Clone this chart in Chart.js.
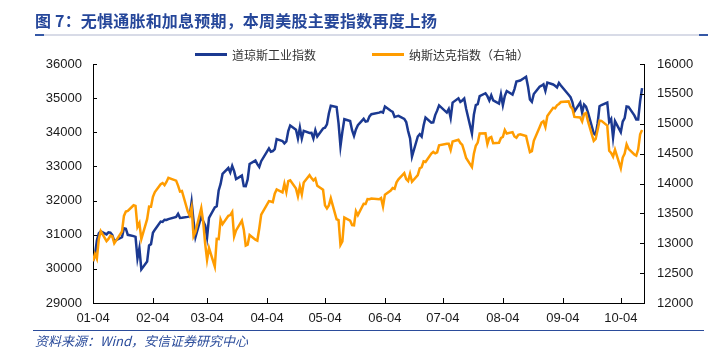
<!DOCTYPE html>
<html>
<head>
<meta charset="utf-8">
<script src="https://cdn.jsdelivr.net/npm/chart.js@4.4.1/dist/chart.umd.min.js"></script>
<style>
  html, body { margin: 0; padding: 0; background: #fff; }
  #wrap { position: relative; width: 720px; height: 352px; overflow: hidden; font-family: "Noto Sans CJK SC", sans-serif; }
  #chart { position: absolute; left: 0; top: 0; }
  .title { position: absolute; left: 35px; top: 10px; font-size: 16px; font-weight: bold; color: #26479a; white-space: nowrap; line-height: 20px; letter-spacing: 0.2px; }
  .rule { position: absolute; left: 35px; width: 673px; top: 34px; height: 2px; background: #d8dbe7; }
  .rule:before, .rule:after { content: ""; position: absolute; top: 0; width: 9px; height: 2px; background: #3558a6; }
  .rule:before { left: 0; }
  .rule:after { right: 0; }
  .srcline { position: absolute; left: 33px; width: 671px; top: 330px; height: 1px; background: #2b4c9b; }
  .source { position: absolute; left: 35px; top: 333px; font-size: 13px; font-style: italic; color: #2b4c9b; white-space: nowrap; line-height: 16px; }
  #legend { position: absolute; left: 195px; top: 46px; height: 16px; display: flex; gap: 56px; font-size: 12px; color: #333; }
  #legend .item { display: flex; align-items: center; }
  #legend .swatch { width: 32px; height: 3px; margin-right: 5px; }
</style>
</head>
<body>
<div id="wrap">
  <canvas id="chart" width="720" height="352"></canvas>
  <div class="title">图 7：无惧通胀和加息预期，本周美股主要指数再度上扬</div>
  <div class="rule"></div>
  <div id="legend"></div>
  <div class="srcline"></div>
  <div class="source">资料来源：Wind，安信证券研究中心</div>
</div>
<script>
// trading days of 2021 (MM-DD)
const tradeDates = [
  '01-04','01-05','01-06','01-07','01-08','01-11','01-12','01-13','01-14','01-15','01-19','01-20','01-21','01-22','01-25','01-26','01-27','01-28','01-29',
  '02-01','02-02','02-03','02-04','02-05','02-08','02-09','02-10','02-11','02-12','02-16','02-17','02-18','02-19','02-22','02-23','02-24','02-25','02-26',
  '03-01','03-02','03-03','03-04','03-05','03-08','03-09','03-10','03-11','03-12','03-15','03-16','03-17','03-18','03-19','03-22','03-23','03-24','03-25','03-26','03-29','03-30','03-31',
  '04-01','04-05','04-06','04-07','04-08','04-09','04-12','04-13','04-14','04-15','04-16','04-19','04-20','04-21','04-22','04-23','04-26','04-27','04-28','04-29','04-30',
  '05-03','05-04','05-05','05-06','05-07','05-10','05-11','05-12','05-13','05-14','05-17','05-18','05-19','05-20','05-21','05-24','05-25','05-26','05-27','05-28',
  '06-01','06-02','06-03','06-04','06-07','06-08','06-09','06-10','06-11','06-14','06-15','06-16','06-17','06-18','06-21','06-22','06-23','06-24','06-25','06-28','06-29','06-30',
  '07-01','07-02','07-06','07-07','07-08','07-09','07-12','07-13','07-14','07-15','07-16','07-19','07-20','07-21','07-22','07-23','07-26','07-27','07-28','07-29','07-30',
  '08-02','08-03','08-04','08-05','08-06','08-09','08-10','08-11','08-12','08-13','08-16','08-17','08-18','08-19','08-20','08-23','08-24','08-25','08-26','08-27','08-30','08-31',
  '09-01','09-02','09-03','09-07','09-08','09-09','09-10','09-13','09-14','09-15','09-16','09-17','09-20','09-21','09-22','09-23','09-24','09-27','09-28','09-29','09-30',
  '10-01','10-04','10-05','10-06','10-07','10-08','10-11','10-12','10-13','10-14','10-15'
];

const dowValues = [
  30224,30392,30829,31041,31098,31009,31069,31060,30992,30814,30931,31188,31176,30997,30960,30937,30303,30603,29983,
  30212,30687,30724,31056,31148,31386,31376,31438,31431,31458,31523,31613,31493,31494,31522,31537,31962,31402,30932,
  31536,31392,31270,30924,31496,31802,31833,32297,32486,32779,32953,32826,33015,32862,32628,32731,32423,32420,32619,33073,33171,33067,32982,
  33153,33527,33430,33446,33504,33801,33745,33677,33731,34036,34201,34078,33821,34137,33816,34043,33982,33985,33820,34060,33875,
  34113,34133,34230,34549,34778,34743,34269,33588,34021,34382,34328,34061,33896,34084,34208,34394,34312,34323,34465,34529,
  34575,34600,34577,34756,34630,34600,34447,34466,34480,34394,34299,34034,33823,33290,33877,33946,33874,34197,34434,34283,34292,34503,
  34634,34786,34577,34682,34422,34870,34996,34889,34933,34987,34688,33962,34512,34798,34823,35062,35144,35059,34931,35085,34935,
  34838,35116,34793,35064,35209,35102,35265,35485,35500,35515,35625,35343,34961,34894,35120,35336,35366,35406,35213,35456,35400,35361,
  35313,35444,35369,35100,35031,34879,34608,34870,34578,34814,34751,34585,33970,33920,34258,34765,34798,34869,34300,34391,33844,
  34326,34003,34315,34417,34755,34746,34496,34378,34378,34913,35295
];

const nasdaqValues = [
  12698,12819,12741,13067,13202,13036,13072,13129,13113,12999,13197,13457,13531,13543,13636,13626,13271,13337,13071,
  13403,13613,13611,13778,13856,13988,14008,13973,14026,14095,14048,13965,13865,13874,13533,13465,13598,13119,13192,
  13589,13359,12998,12723,12920,12609,13074,13069,13399,13320,13460,13472,13525,13116,13215,13378,13228,12962,12978,13139,13060,13045,13247,
  13480,13706,13698,13689,13829,13900,13850,13996,13858,14039,14052,13915,13786,13950,13818,14017,14139,14090,14051,14083,13963,
  13895,13634,13582,13633,13752,13402,13389,12972,13032,13430,13379,13304,13300,13536,13471,13661,13657,13738,13736,13749,
  13736,13756,13615,13814,13882,13925,13912,14020,14069,14174,14073,14040,14161,14030,14141,14253,14272,14370,14360,14501,14528,14504,
  14522,14639,14664,14665,14560,14702,14733,14678,14645,14543,14427,14275,14499,14632,14685,14837,14841,14661,14763,14778,14673,
  14681,14761,14781,14895,14836,14860,14788,14765,14816,14823,14794,14656,14526,14542,14715,14943,15020,15042,14946,15130,15266,15259,
  15309,15331,15364,15374,15287,15248,15115,15106,15038,15162,15182,15044,14714,14746,14897,15052,15048,14970,14547,14512,14449,
  14567,14255,14434,14502,14654,14580,14486,14466,14572,14823,14897
];

const tickLabels = ['01-04','02-04','03-04','04-04','05-04','06-04','07-04','08-04','09-04','10-04'];
const seriesNames = ['道琼斯工业指数', '纳斯达克指数（右轴）'];

const dayOf = s => (Date.UTC(2021, +s.slice(0, 2) - 1, +s.slice(3)) - Date.UTC(2021, 0, 4)) / 86400000;
const days = tradeDates.map(dayOf);
const tickDays = tickLabels.map(dayOf);
const lastDay = days[days.length - 1];

const tickFont = { family: '"Liberation Sans", Arial, sans-serif', size: 13 };

// short tick marks drawn inside the plot, like the source chart
const innerTicks = {
  id: 'innerTicks',
  afterDraw(c) {
    const ctx = c.ctx, a = c.chartArea;
    ctx.save();
    ctx.strokeStyle = '#000';
    ctx.lineWidth = 1;
    ctx.beginPath();
    c.scales.x.ticks.forEach(t => {
      const px = Math.round(c.scales.x.getPixelForValue(t.value)) + 0.5;
      ctx.moveTo(px, a.bottom); ctx.lineTo(px, a.bottom - 5);
    });
    c.scales.y.ticks.forEach(t => {
      const py = Math.round(c.scales.y.getPixelForValue(t.value)) + 0.5;
      ctx.moveTo(a.left, py); ctx.lineTo(a.left + 4, py);
    });
    c.scales.y1.ticks.forEach(t => {
      const py = Math.round(c.scales.y1.getPixelForValue(t.value)) + 0.5;
      ctx.moveTo(a.right, py); ctx.lineTo(a.right - 4, py);
    });
    ctx.stroke();
    ctx.restore();
  }
};

const chart = new Chart(document.getElementById('chart'), {
  type: 'line',
  data: {
    datasets: [
      {
        label: seriesNames[0],
        data: days.map((d, i) => ({ x: d, y: dowValues[i] })),
        borderColor: '#1b3991',
        borderWidth: 2.5,
        pointRadius: 0,
        yAxisID: 'y',
        order: 1
      },
      {
        label: seriesNames[1],
        data: days.map((d, i) => ({ x: d, y: nasdaqValues[i] })),
        borderColor: '#ff9c00',
        borderWidth: 2.5,
        pointRadius: 0,
        yAxisID: 'y1',
        order: 0
      }
    ]
  },
  options: {
    responsive: false,
    animation: false,
    layout: { padding: { left: 10, right: 4, top: 64, bottom: 19 } },
    plugins: { legend: { display: false }, tooltip: { enabled: false } },
    scales: {
      x: {
        type: 'linear',
        min: 0,
        max: lastDay + 1,
        afterBuildTicks: s => { s.ticks = tickDays.map(v => ({ value: v })); },
        afterFit: s => { s.height = 30; },
        grid: { drawOnChartArea: false, drawTicks: false },
        border: { color: '#000', width: 1 },
        ticks: { padding: 8, autoSkip: false, maxRotation: 0, color: '#1a1a1a', font: tickFont,
                 callback: (v, i) => tickLabels[i] }
      },
      y: {
        position: 'left',
        min: 29000, max: 36000,
        afterFit: s => { s.width = 83; },
        grid: { drawOnChartArea: false, drawTicks: false },
        border: { color: '#000', width: 1 },
        ticks: { stepSize: 1000, padding: 11, color: '#1a1a1a', font: tickFont, callback: v => String(v) }
      },
      y1: {
        position: 'right',
        min: 12000, max: 16000,
        afterFit: s => { s.width = 72; },
        grid: { drawOnChartArea: false, drawTicks: false },
        border: { color: '#000', width: 1 },
        ticks: { stepSize: 500, padding: 13, color: '#1a1a1a', font: tickFont, callback: v => String(v) }
      }
    }
  },
  plugins: [innerTicks]
});

// legend built from the chart's datasets
const legend = document.getElementById('legend');
chart.data.datasets.forEach(ds => {
  const item = document.createElement('div');
  item.className = 'item';
  const sw = document.createElement('span');
  sw.className = 'swatch';
  sw.style.background = ds.borderColor;
  const tx = document.createElement('span');
  tx.textContent = ds.label;
  item.appendChild(sw);
  item.appendChild(tx);
  legend.appendChild(item);
});
</script>
</body>
</html>
